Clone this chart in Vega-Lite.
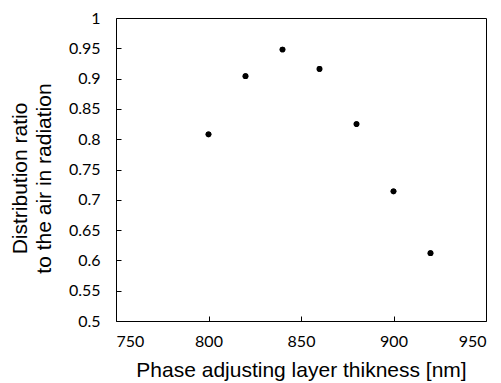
{
  "$schema": "https://vega.github.io/schema/vega-lite/v6.json",
  "width": 370,
  "height": 303,
  "autosize": {"type": "none"},
  "padding": {"left": 116, "top": 18, "right": 15, "bottom": 62},
  "background": "white",
  "config": {
    "view": {"stroke": "black", "strokeWidth": 1},
    "axis": {
      "grid": false,
      "domainColor": "black",
      "tickColor": "black",
      "labelColor": "black",
      "titleColor": "black",
      "labelFont": "Lato",
      "labelFontSize": 16,
      "titleFont": "Liberation Sans",
      "titleFontSize": 21,
      "titleFontWeight": "normal",
      "tickSize": 5,
      "tickWidth": 1
    }
  },
  "data": {
    "values": [
      {"t": 800, "r": 0.808},
      {"t": 820, "r": 0.904},
      {"t": 840, "r": 0.948},
      {"t": 860, "r": 0.916},
      {"t": 880, "r": 0.825},
      {"t": 900, "r": 0.714},
      {"t": 920, "r": 0.612}
    ]
  },
  "layer": [
    {
      "mark": {"type": "circle", "size": 32, "color": "black", "opacity": 1},
      "encoding": {
        "x": {
          "field": "t",
          "type": "quantitative",
          "scale": {"domain": [750, 950], "nice": false, "zero": false},
          "axis": {"values": [750, 800, 850, 900, 950], "ticks": false, "title": "Phase adjusting layer thikness [nm]", "labelPadding": 12, "titlePadding": 10}
        },
        "y": {
          "field": "r",
          "type": "quantitative",
          "scale": {"domain": [0.5, 1], "nice": false, "zero": false},
          "axis": {
            "values": [0.5, 0.55, 0.6, 0.65, 0.7, 0.75, 0.8, 0.85, 0.9, 0.95, 1],
            "format": ".2~f",
            "ticks": false,
            "title": ["Distribution ratio", "to the air in radiation"],
            "titleLineHeight": 24,
            "titleY": 160,
            "labelPadding": 16,
            "titlePadding": 14
          }
        }
      }
    },
    {
      "mark": {"type": "circle", "size": 32, "color": "black", "opacity": 1},
      "encoding": {
        "x": {
          "field": "t",
          "type": "quantitative",
          "axis": {"orient": "top", "offset": -303, "values": [800, 850, 900], "labels": false, "domain": false, "title": null, "tickSize": 5, "tickWidth": 1, "tickColor": "black"}
        },
        "y": {
          "field": "r",
          "type": "quantitative",
          "axis": {"orient": "right", "offset": -370, "values": [0.55, 0.6, 0.65, 0.7, 0.75, 0.8, 0.85, 0.9, 0.95], "labels": false, "domain": false, "title": null, "tickSize": 5, "tickWidth": 1, "tickColor": "black"}
        }
      }
    }
  ],
  "resolve": {"axis": {"x": "independent", "y": "independent"}}
}
